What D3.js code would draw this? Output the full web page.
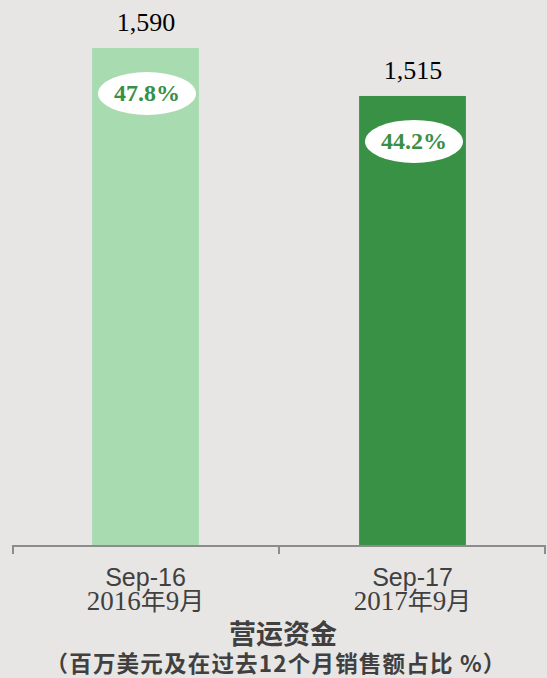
<!DOCTYPE html>
<html>
<head>
<meta charset="utf-8">
<script src="https://cdn.jsdelivr.net/npm/d3@7"></script>
<style>
  body { margin: 0; background: #e8e6e4; }
  svg { display: block; }
</style>
</head>
<body>
<script>
//chart data
var categories = ["Sep-16", "Sep-17"];
var categoriesCn = ["2016年9月", "2017年9月"];
var values = [1590, 1515];
var percents = ["47.8%", "44.2%"];
var barColors = ["#a8dcb0", "#389145"];

window.onload = function(){

    var w = 547, h = 678;

    var svg = d3.select("body")
        .append("svg")
        .attr("width", w)
        .attr("height", h)
        .style("background-color", "#e8e6e4");

    //x scale, one band per date
    var x = d3.scaleBand()
        .domain(categories)
        .range([12, 546])
        .paddingInner(0.6)
        .paddingOuter(0.3);

    //y scale (axis does not start at zero in the original)
    var y = d3.scaleLinear()
        .domain([813, 1590])
        .range([545, 48]);

    var data = categories.map(function(c, i){
        return {cat: c, cn: categoriesCn[i], value: values[i], pct: percents[i], color: barColors[i]};
    });

    var cx = function(d){ return x(d.cat) + x.bandwidth() / 2; };

    //bars
    svg.selectAll(".bar")
        .data(data)
        .enter()
        .append("rect")
        .attr("class", "bar")
        .attr("x", function(d){ return x(d.cat); })
        .attr("y", function(d){ return y(d.value); })
        .attr("width", x.bandwidth())
        .attr("height", function(d){ return y.range()[0] - y(d.value); })
        .style("fill", function(d){ return d.color; });

    //value labels above bars
    var fmt = d3.format(",");
    svg.selectAll(".valueLabel")
        .data(data)
        .enter()
        .append("text")
        .attr("class", "valueLabel")
        .attr("text-anchor", "middle")
        .attr("x", function(d){ return cx(d) + 0.5; })
        .attr("y", function(d){ return y(d.value) - 17; })
        .style("font-family", "'Liberation Serif', 'Times New Roman', serif")
        .style("font-size", "26px")
        .style("fill", "#000")
        .text(function(d){ return fmt(d.value); });

    //white ellipses with percentages
    svg.selectAll(".pctEllipse")
        .data(data)
        .enter()
        .append("ellipse")
        .attr("class", "pctEllipse")
        .attr("cx", function(d){ return cx(d) + 1.5; })
        .attr("cy", function(d){ return y(d.value) + 45.5; })
        .attr("rx", 49)
        .attr("ry", 21.5)
        .style("fill", "#fff");

    svg.selectAll(".pctLabel")
        .data(data)
        .enter()
        .append("text")
        .attr("class", "pctLabel")
        .attr("text-anchor", "middle")
        .attr("x", function(d){ return cx(d) + 1.5; })
        .attr("y", function(d){ return y(d.value) + 53; })
        .style("font-family", "'Liberation Serif', 'Times New Roman', serif")
        .style("font-weight", "bold")
        .style("font-size", "24px")
        .style("fill", "#3a8f46")
        .text(function(d){ return d.pct; });

    //axis line with ticks at band boundaries
    var x0 = x.range()[0], x1 = x.range()[1];
    var bounds = [x0].concat(categories.map(function(c){ return x(c) - x.step() * x.paddingOuter() + x.step(); }));
    var axis = svg.append("g").attr("class", "axis");
    axis.append("line")
        .attr("x1", x0).attr("x2", x1)
        .attr("y1", 546).attr("y2", 546)
        .style("stroke", "#8c8c8c")
        .style("stroke-width", 2);
    axis.selectAll(".tick")
        .data(bounds)
        .enter()
        .append("line")
        .attr("class", "tick")
        .attr("x1", function(d){ return Math.min(Math.max(d, x0 + 1), x1 - 1); })
        .attr("x2", function(d){ return Math.min(Math.max(d, x0 + 1), x1 - 1); })
        .attr("y1", 545).attr("y2", 554)
        .style("stroke", "#8c8c8c")
        .style("stroke-width", 2);

    //category labels, two lines
    svg.selectAll(".catLabel")
        .data(data)
        .enter()
        .append("text")
        .attr("class", "catLabel")
        .attr("text-anchor", "middle")
        .attr("x", cx)
        .attr("y", 586)
        .style("font-family", "'Liberation Sans', Arial, sans-serif")
        .style("font-size", "25px")
        .style("fill", "#404040")
        .text(function(d){ return d.cat; });

    //second line: digits in serif, CJK characters fall back to Noto CJK
    var cnLabels = svg.selectAll(".cnLabel")
        .data(data)
        .enter()
        .append("text")
        .attr("class", "cnLabel")
        .attr("text-anchor", "middle")
        .attr("x", cx)
        .attr("y", 610)
        .style("font-size", "27px")
        .style("fill", "#404040");

    cnLabels.each(function(d){
        var parts = d.cn.split(/([\u4e00-\u9fff]+)/).filter(function(p){ return p.length; });
        var t = d3.select(this);
        parts.forEach(function(p){
            var isCjk = /[\u4e00-\u9fff]/.test(p);
            t.append("tspan")
                .style("font-family", isCjk ? "'Noto Sans CJK SC', sans-serif" : "'Liberation Serif', serif")
                .style("font-size", isCjk ? "25px" : "27px")
                .text(p);
        });
    });

    //chart title
    svg.append("text")
        .attr("text-anchor", "middle")
        .attr("x", 283)
        .attr("y", 644)
        .style("font-family", "'Noto Sans CJK SC', sans-serif")
        .style("font-weight", "bold")
        .style("font-size", "27px")
        .style("fill", "#404040")
        .text("营运资金");

    svg.append("text")
        .attr("text-anchor", "middle")
        .attr("x", 276)
        .attr("y", 672)
        .style("font-family", "'Noto Sans CJK SC', sans-serif")
        .style("font-weight", "bold")
        .style("font-size", "22.5px")
        .style("letter-spacing", "1.2px")
        .style("fill", "#404040")
        .text("（百万美元及在过去12个月销售额占比 %）");
};
</script>
</body>
</html>
